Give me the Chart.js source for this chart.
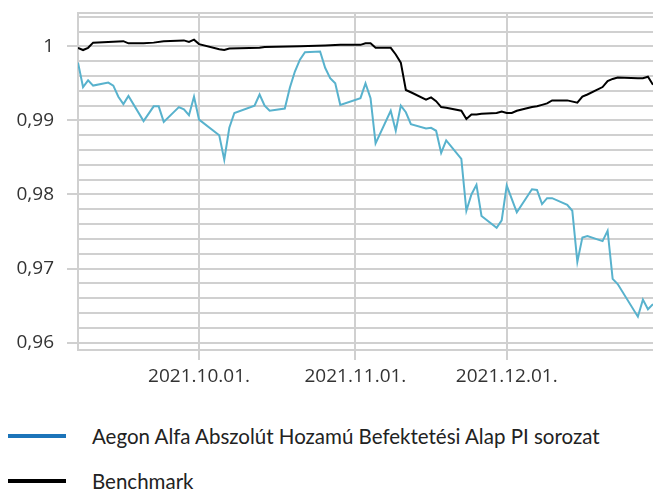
<!DOCTYPE html>
<html>
<head>
<meta charset="utf-8">
<script src="https://cdn.jsdelivr.net/npm/chart.js@4.4.0/dist/chart.umd.min.js"></script>
<style>
  body { margin: 0; background: #fff; }
  #wrap { position: relative; width: 653px; height: 489px; }
  #legend { position: absolute; left: 0; top: 413px; font-family: Lato, sans-serif; font-size: 20.5px; color: #222; }
  .item { height: 45px; display: flex; align-items: center; white-space: nowrap; }
  .swatch { display: inline-block; margin-left: 8px; margin-right: 26px; width: 58px; height: 4px; }
</style>
</head>
<body>
<div id="wrap">
  <canvas id="myChart" width="653" height="400"></canvas>
  <div id="legend"></div>
</div>
<script>
const fundName = 'Aegon Alfa Abszolút Hozamú Befektetési Alap PI sorozat';
const benchName = 'Benchmark';

const fundDates = [
  '2021-09-07','2021-09-08','2021-09-09','2021-09-10','2021-09-13','2021-09-14','2021-09-15','2021-09-16','2021-09-17',
  '2021-09-20','2021-09-22','2021-09-23','2021-09-24','2021-09-27','2021-09-28','2021-09-29','2021-09-30',
  '2021-10-01','2021-10-05','2021-10-06','2021-10-07','2021-10-08','2021-10-12','2021-10-13','2021-10-14','2021-10-15',
  '2021-10-18','2021-10-19','2021-10-20','2021-10-21','2021-10-22','2021-10-25','2021-10-26','2021-10-27','2021-10-28','2021-10-29',
  '2021-11-02','2021-11-03','2021-11-04','2021-11-05','2021-11-08','2021-11-09','2021-11-10','2021-11-11','2021-11-12',
  '2021-11-15','2021-11-16','2021-11-17','2021-11-18','2021-11-19','2021-11-22','2021-11-23','2021-11-24','2021-11-25','2021-11-26',
  '2021-11-29','2021-11-30','2021-12-01','2021-12-03','2021-12-06','2021-12-07','2021-12-08','2021-12-09','2021-12-10',
  '2021-12-13','2021-12-14','2021-12-15','2021-12-16','2021-12-17','2021-12-20','2021-12-21','2021-12-22','2021-12-23',
  '2021-12-27','2021-12-28','2021-12-29','2021-12-30'
];
const fundValues = [
  0.9978, 0.9945, 0.9954, 0.9947, 0.9951, 0.9947, 0.9932, 0.9922, 0.9933,
  0.9899, 0.9919, 0.9919, 0.9898, 0.9918, 0.9915, 0.9907, 0.9932,
  0.9901, 0.9880, 0.9847, 0.9890, 0.9910, 0.9920, 0.9935, 0.9920, 0.9913,
  0.9916, 0.9944, 0.9966, 0.9982, 0.9992, 0.9993, 0.9971, 0.9957, 0.9950, 0.9921,
  0.9930, 0.9950, 0.9930, 0.9869, 0.9913, 0.9886, 0.9920, 0.9911, 0.9895,
  0.9889, 0.9890, 0.9886, 0.9856, 0.9873, 0.9848, 0.9778, 0.9800, 0.9813, 0.9771,
  0.9755, 0.9765, 0.9812, 0.9776, 0.9807, 0.9806, 0.9787, 0.9795, 0.9795,
  0.9786, 0.9778, 0.9709, 0.9742, 0.9744, 0.9737, 0.9751, 0.9686, 0.9679,
  0.9635, 0.9658, 0.9645, 0.9652
];

const benchDates = [
  '2021-09-07','2021-09-08','2021-09-09','2021-09-10','2021-09-16','2021-09-17','2021-09-20','2021-09-22','2021-09-24',
  '2021-09-28','2021-09-29','2021-09-30','2021-10-01','2021-10-05','2021-10-06','2021-10-07','2021-10-13','2021-10-14',
  '2021-10-21','2021-10-26','2021-10-29','2021-11-02','2021-11-03','2021-11-04','2021-11-05','2021-11-08','2021-11-09',
  '2021-11-10','2021-11-11','2021-11-12','2021-11-15','2021-11-16','2021-11-17','2021-11-18','2021-11-19','2021-11-22',
  '2021-11-23','2021-11-24','2021-11-25','2021-11-26','2021-11-29','2021-11-30','2021-12-01','2021-12-02','2021-12-03',
  '2021-12-06','2021-12-07','2021-12-08','2021-12-09','2021-12-10','2021-12-13','2021-12-15','2021-12-16','2021-12-17',
  '2021-12-20','2021-12-21','2021-12-22','2021-12-23','2021-12-27','2021-12-28','2021-12-29','2021-12-30'
];
const benchValues = [
  0.9998, 0.9995, 0.9998, 1.0005, 1.0007, 1.0004, 1.0004, 1.0005, 1.0007,
  1.0008, 1.0006, 1.0009, 1.0003, 0.9996, 0.9995, 0.9997, 0.9998, 0.9999,
  1.0000, 1.0001, 1.0002, 1.0002, 1.0004, 1.0004, 0.9998, 0.9998, 0.9989,
  0.9978, 0.9941, 0.9938, 0.9928, 0.9931, 0.9926, 0.9918, 0.9917, 0.9913,
  0.9902, 0.9908, 0.9908, 0.9909, 0.9910, 0.9912, 0.9910, 0.9910, 0.9913,
  0.9918, 0.9919, 0.9921, 0.9923, 0.9927, 0.9927, 0.9924, 0.9932, 0.9935,
  0.9945, 0.9953, 0.9956, 0.9958, 0.9957, 0.9957, 0.9959, 0.9948
];

const monthTicks = ['2021-10-01', '2021-11-01', '2021-12-01'];
const monthLabels = ['2021.10.01.', '2021.11.01.', '2021.12.01.'];
const yLabels = [0.96, 0.97, 0.98, 0.99, 1];
const yMin = 0.959, yMax = 1.0045, yStep = 0.002;

const fundColor = '#58b2cd', fundLegendColor = '#1c74b9', benchColor = '#000000';
const gridColor = '#d0d0d0';

// date string -> day number
function day(s) {
    return Date.UTC(+s.slice(0, 4), +s.slice(5, 7) - 1, +s.slice(8, 10)) / 864e5;
}
function toPoints(dates, values) {
    return dates.map((d, i) => ({x: day(d), y: values[i]}));
}

const tickFont = {family: "'Open Sans', sans-serif", size: 19};

const config = {
    type: 'line',
    data: {
        datasets: [{
            label: fundName,
            data: toPoints(fundDates, fundValues),
            borderColor: fundColor,
            borderWidth: 2,
            pointRadius: 0,
            tension: 0,
            legendColor: fundLegendColor
        }, {
            label: benchName,
            data: toPoints(benchDates, benchValues),
            borderColor: benchColor,
            borderWidth: 2,
            pointRadius: 0,
            tension: 0,
            legendColor: benchColor
        }]
    },
    options: {
        responsive: false,
        animation: false,
        layout: {padding: {top: 13, left: 0, right: 0, bottom: 0}},
        plugins: {
            legend: {display: false},
            tooltip: {enabled: false}
        },
        scales: {
            x: {
                type: 'linear',
                min: day(fundDates[0]),
                max: day(fundDates[fundDates.length - 1]),
                afterBuildTicks: axis => {
                    axis.ticks = monthTicks.map(d => ({value: day(d)}));
                },
                afterFit: axis => {
                    axis.height = 50;
                    axis.paddingLeft = axis.paddingRight = 0;
                },
                ticks: {
                    autoSkip: false,
                    maxRotation: 0,
                    padding: 5,
                    color: '#333',
                    font: tickFont,
                    callback: (v, i) => monthLabels[i]
                },
                grid: {color: gridColor, lineWidth: 2, tickLength: 10, tickColor: gridColor},
                border: {color: gridColor, width: 2}
            },
            y: {
                min: yMin,
                max: yMax,
                afterBuildTicks: axis => {
                    const t = [yMin];
                    for (let v = 0.96; v <= 1.0041; v += yStep) t.push(+v.toFixed(3));
                    t.push(yMax);
                    axis.ticks = t.map(v => ({value: v}));
                },
                afterFit: axis => {
                    axis.width = 78;
                    axis.paddingTop = axis.paddingBottom = 0;
                },
                ticks: {
                    autoSkip: false,
                    padding: 13,
                    color: '#333',
                    font: tickFont,
                    callback: v => yLabels.includes(v) ? String(v).replace('.', ',') : ''
                },
                grid: {
                    color: gridColor,
                    lineWidth: 2,
                    tickLength: 11,
                    tickColor: ctx => (ctx.tick && yLabels.includes(ctx.tick.value)) ? gridColor : 'rgba(0,0,0,0)'
                },
                border: {color: gridColor, width: 2}
            }
        }
    }
};

const ctx = document.getElementById('myChart').getContext('2d');
const fundChart = new Chart(ctx, config);

// html legend
const legend = document.getElementById('legend');
fundChart.data.datasets.forEach(ds => {
    const row = document.createElement('div');
    row.className = 'item';
    row.innerHTML = '<span class="swatch" style="background:' + ds.legendColor + '"></span>' + ds.label;
    legend.appendChild(row);
});
</script>
</body>
</html>
